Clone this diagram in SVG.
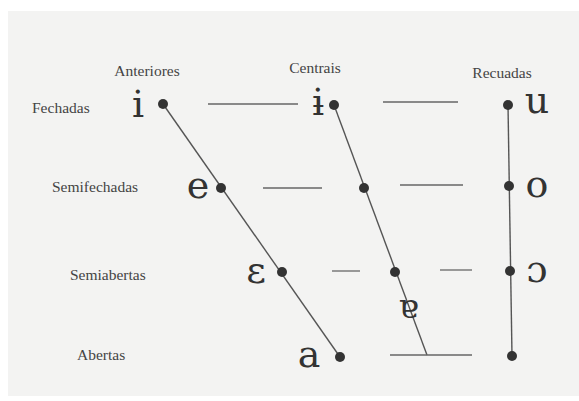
<svg xmlns="http://www.w3.org/2000/svg" width="579" height="401" viewBox="0 0 579 401">
<style>
.lbl{font-family:"Liberation Serif","Times New Roman",serif;font-size:15.5px;fill:#444}
.sym{font-family:"DejaVu Serif","Liberation Serif",serif;font-size:38px;fill:#333;text-anchor:middle}
.ln{stroke:#555;stroke-width:1.4;fill:none}
.dash{stroke:#666;stroke-width:1.3}
.dot{fill:#333}
</style>
<rect x="0" y="0" width="579" height="401" fill="#ffffff"/>
<rect x="8" y="11" width="571" height="385" fill="#f3f3f2"/>
<g id="headers">
<text class="lbl" x="147" y="76" text-anchor="middle">Anteriores</text>
<text class="lbl" x="315" y="73" text-anchor="middle">Centrais</text>
<text class="lbl" x="502" y="78" text-anchor="middle">Recuadas</text>
<text class="lbl" x="32" y="113">Fechadas</text>
<text class="lbl" x="52" y="192">Semifechadas</text>
<text class="lbl" x="70" y="280">Semiabertas</text>
<text class="lbl" x="77" y="360">Abertas</text>
</g>
<g id="connectors">
<line class="ln" x1="163" y1="104" x2="340" y2="357"/>
<line class="ln" x1="334" y1="105" x2="427" y2="355"/>
<line class="ln" x1="508" y1="105" x2="512" y2="356"/>
<line class="dash" x1="208" y1="104" x2="298" y2="104"/>
<line class="dash" x1="383" y1="102" x2="458" y2="102"/>
<line class="dash" x1="263" y1="188" x2="322" y2="188"/>
<line class="dash" x1="400" y1="185" x2="463" y2="185"/>
<line class="dash" x1="332" y1="271" x2="360" y2="271"/>
<line class="dash" x1="440" y1="270" x2="472" y2="270"/>
<line class="dash" x1="390" y1="355" x2="472" y2="355"/>
</g>
<g id="v-i"><text class="sym" x="138" y="117">i</text><circle class="dot" cx="163" cy="104" r="5"/></g>
<g id="v-barred-i"><text class="sym" x="318" y="115">ɨ</text><circle class="dot" cx="334" cy="105" r="5"/></g>
<g id="v-u"><text class="sym" x="537" y="113">u</text><circle class="dot" cx="508" cy="105" r="5"/></g>
<g id="v-e"><text class="sym" x="198" y="198">e</text><circle class="dot" cx="221" cy="188" r="5"/></g>
<g id="v-central-mid"><circle class="dot" cx="364" cy="188" r="5"/></g>
<g id="v-o"><text class="sym" x="537" y="197">o</text><circle class="dot" cx="509" cy="186" r="5"/></g>
<g id="v-open-e"><text class="sym" x="256" y="283">ɛ</text><circle class="dot" cx="282" cy="272" r="5"/></g>
<g id="v-central-open"><circle class="dot" cx="395" cy="272" r="5"/></g>
<g id="v-open-o"><text class="sym" x="537" y="282">ɔ</text><circle class="dot" cx="510" cy="271" r="5"/></g>
<g id="v-turned-a"><text class="sym" style="font-size:34px" transform="translate(409 310) rotate(180)" x="0" y="10">a</text></g>
<g id="v-a"><text class="sym" x="309" y="367">a</text><circle class="dot" cx="340" cy="357" r="5"/></g>
<g id="v-back-open"><circle class="dot" cx="512" cy="356" r="5"/></g>
</svg>
